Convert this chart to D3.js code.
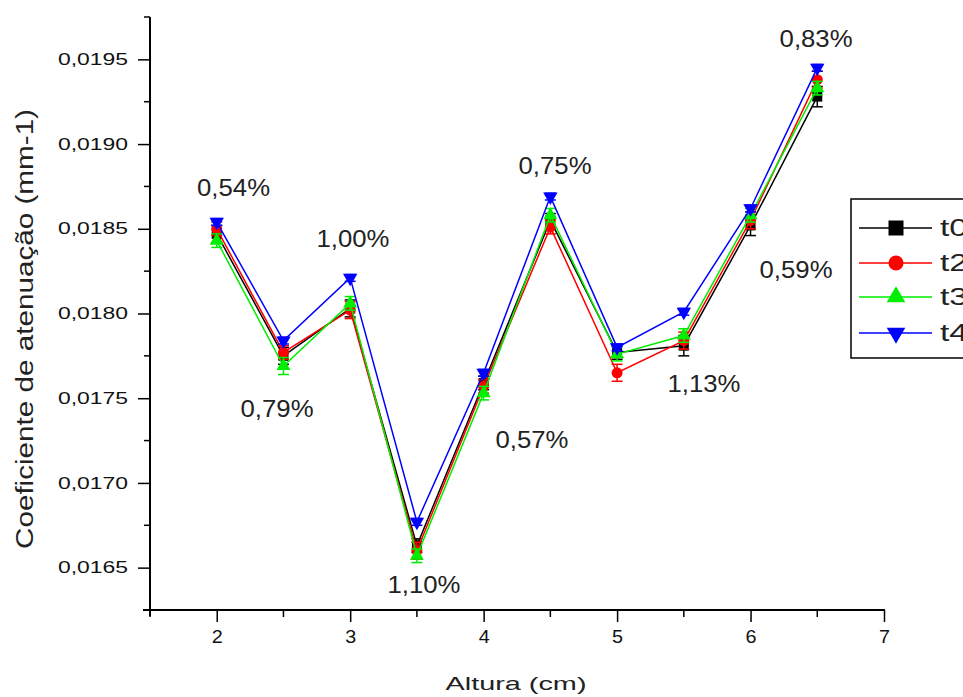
<!DOCTYPE html>
<html><head><meta charset="utf-8">
<script src="https://cdn.jsdelivr.net/npm/d3@7"></script>
<style>body{margin:0;background:#fff}svg{display:block}text{font-family:"Liberation Sans",Arial,sans-serif}</style>
</head><body><svg id="c" width="963" height="697"></svg>
<script>
const xVals = [2, 2.5, 3, 3.5, 4, 4.5, 5, 5.5, 6, 6.5];
const t0 = [0.01847, 0.01775, 0.01803, 0.01663, 0.01759, 0.01855, 0.01777, 0.01781, 0.01852, 0.01928];
const t2 = [0.01850, 0.01777, 0.01802, 0.01660, 0.01757, 0.01851, 0.01765, 0.01784, 0.01855, 0.01938];
const t3 = [0.01843, 0.01769, 0.01806, 0.01657, 0.01753, 0.01858, 0.01776, 0.01787, 0.01858, 0.01933];
const t4 = [0.01854, 0.01784, 0.01821, 0.01677, 0.01765, 0.01869, 0.01780, 0.01801, 0.01862, 0.01945];
const e0 = [0.00005, 0.00005, 0.00005, 0.00004, 0.00004, 0.00004, 0.00004, 0.00006, 0.00006, 0.00006];
const e2 = [0.00004, 0.00004, 0.00005, 0.00005, 0.00004, 0.00004, 0.00005, 0.00005, 0.00005, 0.00005];
const e3 = [0.00004, 0.00005, 0.00004, 0.00004, 0.00004, 0.00004, 0.00004, 0.00004, 0.00004, 0.00004];
const e4 = [0.00002, 0.00002, 0.00002, 0.00002, 0.00002, 0.00002, 0.00002, 0.00002, 0.00002, 0.00002];
const seriesNames = ["t0", "t2", "t3", "t4"];
const yTicks = [0.0165, 0.0170, 0.0175, 0.0180, 0.0185, 0.0190, 0.0195];
const xTicks = [2, 3, 4, 5, 6, 7];
const annText = ["0,54%", "1,00%", "0,79%", "1,10%", "0,57%", "0,75%", "1,13%", "0,59%", "0,83%"];
const annX = [2.126, 3.021, 2.452, 3.553, 4.362, 4.535, 5.651, 6.341, 6.491];
const annY = [0.018691, 0.018390, 0.017392, 0.016353, 0.017209, 0.018821, 0.017534, 0.018207, 0.019571];

const colors = ["#000000", "#ff0000", "#00ee00", "#0000ff"];
const symbols = [d3.symbolSquare, d3.symbolCircle, d3.symbolTriangle, d3.symbolTriangle];
const rot = [0, 0, 0, 180];
const sizes = [100, 95, 85, 90];
const lsizes = [225, 180, 150, 150];

const svg = d3.select("#c");
const x = d3.scaleLinear().domain([1.5, 7]).range([150, 884]);
const y = d3.scaleLinear().domain([0.01625, 0.01975]).range([610, 17]);

const series = [t0, t2, t3, t4].map((v, i) => ({name: seriesNames[i], vals: v, errs: [e0, e2, e3, e4][i], i}));

// axes
const fmt = d => d3.format(".4f")(d).replace(".", ",");
const yAxis = d3.axisLeft(y).tickValues(yTicks).tickSize(12).tickPadding(10).tickFormat(fmt);
const gy = svg.append("g").attr("transform", "translate(150,0)").call(yAxis);
gy.select(".domain").remove();
gy.selectAll(".tick line").attr("stroke", "#000").attr("stroke-width", 1.5);
gy.selectAll(".tick text").attr("font-size", 16).attr("fill", "#111")
  .attr("textLength", 70).attr("lengthAdjust", "spacingAndGlyphs");
const yMinor = d3.range(0, 7).map(k => 0.01675 + k * 0.0005);
svg.append("g").selectAll("line").data(yMinor).join("line")
  .attr("x1", 144).attr("x2", 150).attr("y1", d => y(d)).attr("y2", d => y(d))
  .attr("stroke", "#000").attr("stroke-width", 1.5);

const xAxis = d3.axisBottom(x).tickValues(xTicks).tickSize(12).tickPadding(8).tickFormat(d3.format("d"));
const gx = svg.append("g").attr("transform", "translate(0,610)").call(xAxis);
gx.select(".domain").remove();
gx.selectAll(".tick line").attr("stroke", "#000").attr("stroke-width", 1.5);
gx.selectAll(".tick text").attr("font-size", 18).attr("fill", "#111")
  .attr("textLength", 11).attr("lengthAdjust", "spacingAndGlyphs");
const xMinor = [1.5, 2.5, 3.5, 4.5, 5.5, 6.5];
svg.append("g").selectAll("line").data(xMinor).join("line")
  .attr("x1", d => x(d)).attr("x2", d => x(d)).attr("y1", 610).attr("y2", 617)
  .attr("stroke", "#000").attr("stroke-width", 1.5);

svg.append("line").attr("x1", 150).attr("x2", 150).attr("y1", 17).attr("y2", 616)
  .attr("stroke", "#000").attr("stroke-width", 2);
svg.append("line").attr("x1", 143).attr("x2", 885).attr("y1", 610).attr("y2", 610)
  .attr("stroke", "#000").attr("stroke-width", 2);

// axis titles
svg.append("text").attr("x", 516).attr("y", 690).attr("text-anchor", "middle")
  .attr("font-size", 19).attr("fill", "#222").attr("textLength", 141).attr("lengthAdjust", "spacingAndGlyphs")
  .text("Altura (cm)");
svg.append("text").attr("transform", "translate(33,329) rotate(-90)").attr("text-anchor", "middle")
  .attr("font-size", 23).attr("fill", "#222").attr("textLength", 440).attr("lengthAdjust", "spacingAndGlyphs")
  .text("Coeficiente de atenuação (mm-1)");

// series
const line = d3.line().x((d, j) => x(xVals[j])).y(d => y(d));
series.forEach(s => {
  const g = svg.append("g");
  g.append("path").attr("d", line(s.vals)).attr("fill", "none")
    .attr("stroke", colors[s.i]).attr("stroke-width", 1.5);
  const eb = g.selectAll("g.eb").data(s.vals).join("g");
  eb.append("line").attr("x1", (d, j) => x(xVals[j])).attr("x2", (d, j) => x(xVals[j]))
    .attr("y1", (d, j) => y(d - s.errs[j])).attr("y2", (d, j) => y(d + s.errs[j]))
    .attr("stroke", colors[s.i]).attr("stroke-width", 1.5);
  [-1, 1].forEach(sg => {
    eb.append("line").attr("x1", (d, j) => x(xVals[j]) - 5.5).attr("x2", (d, j) => x(xVals[j]) + 5.5)
      .attr("y1", (d, j) => y(d + sg * s.errs[j])).attr("y2", (d, j) => y(d + sg * s.errs[j]))
      .attr("stroke", colors[s.i]).attr("stroke-width", 1.5);
  });
  g.selectAll("path.m").data(s.vals).join("path").attr("class", "m")
    .attr("d", d3.symbol().type(symbols[s.i]).size(sizes[s.i]))
    .attr("transform", (d, j) => `translate(${x(xVals[j])},${y(d)}) rotate(${rot[s.i]})`)
    .attr("fill", colors[s.i]);
});

// annotations
svg.append("g").selectAll("text").data(annText).join("text")
  .attr("x", (d, i) => x(annX[i])).attr("y", (d, i) => y(annY[i]))
  .attr("text-anchor", "middle").attr("font-size", 24).attr("fill", "#222")
  .attr("textLength", 73).attr("lengthAdjust", "spacingAndGlyphs")
  .text(d => d);

// legend
const lg = svg.append("g");
lg.append("rect").attr("x", 851).attr("y", 199).attr("width", 140).attr("height", 159)
  .attr("fill", "#fff").attr("stroke", "#000").attr("stroke-width", 1.5);
const rowsY = [228, 263, 297, 333];
series.forEach(s => {
  const ry = rowsY[s.i];
  lg.append("line").attr("x1", 859).attr("x2", 932).attr("y1", ry).attr("y2", ry)
    .attr("stroke", colors[s.i]).attr("stroke-width", 1.5);
  lg.append("path").attr("d", d3.symbol().type(symbols[s.i]).size(lsizes[s.i]))
    .attr("transform", `translate(896,${ry}) rotate(${rot[s.i]})`).attr("fill", colors[s.i]);
  lg.append("text").attr("x", 940).attr("y", ry + 8).attr("font-size", 23).attr("fill", "#222")
    .attr("textLength", 28).attr("lengthAdjust", "spacingAndGlyphs").text(s.name);
});
</script></body></html>
